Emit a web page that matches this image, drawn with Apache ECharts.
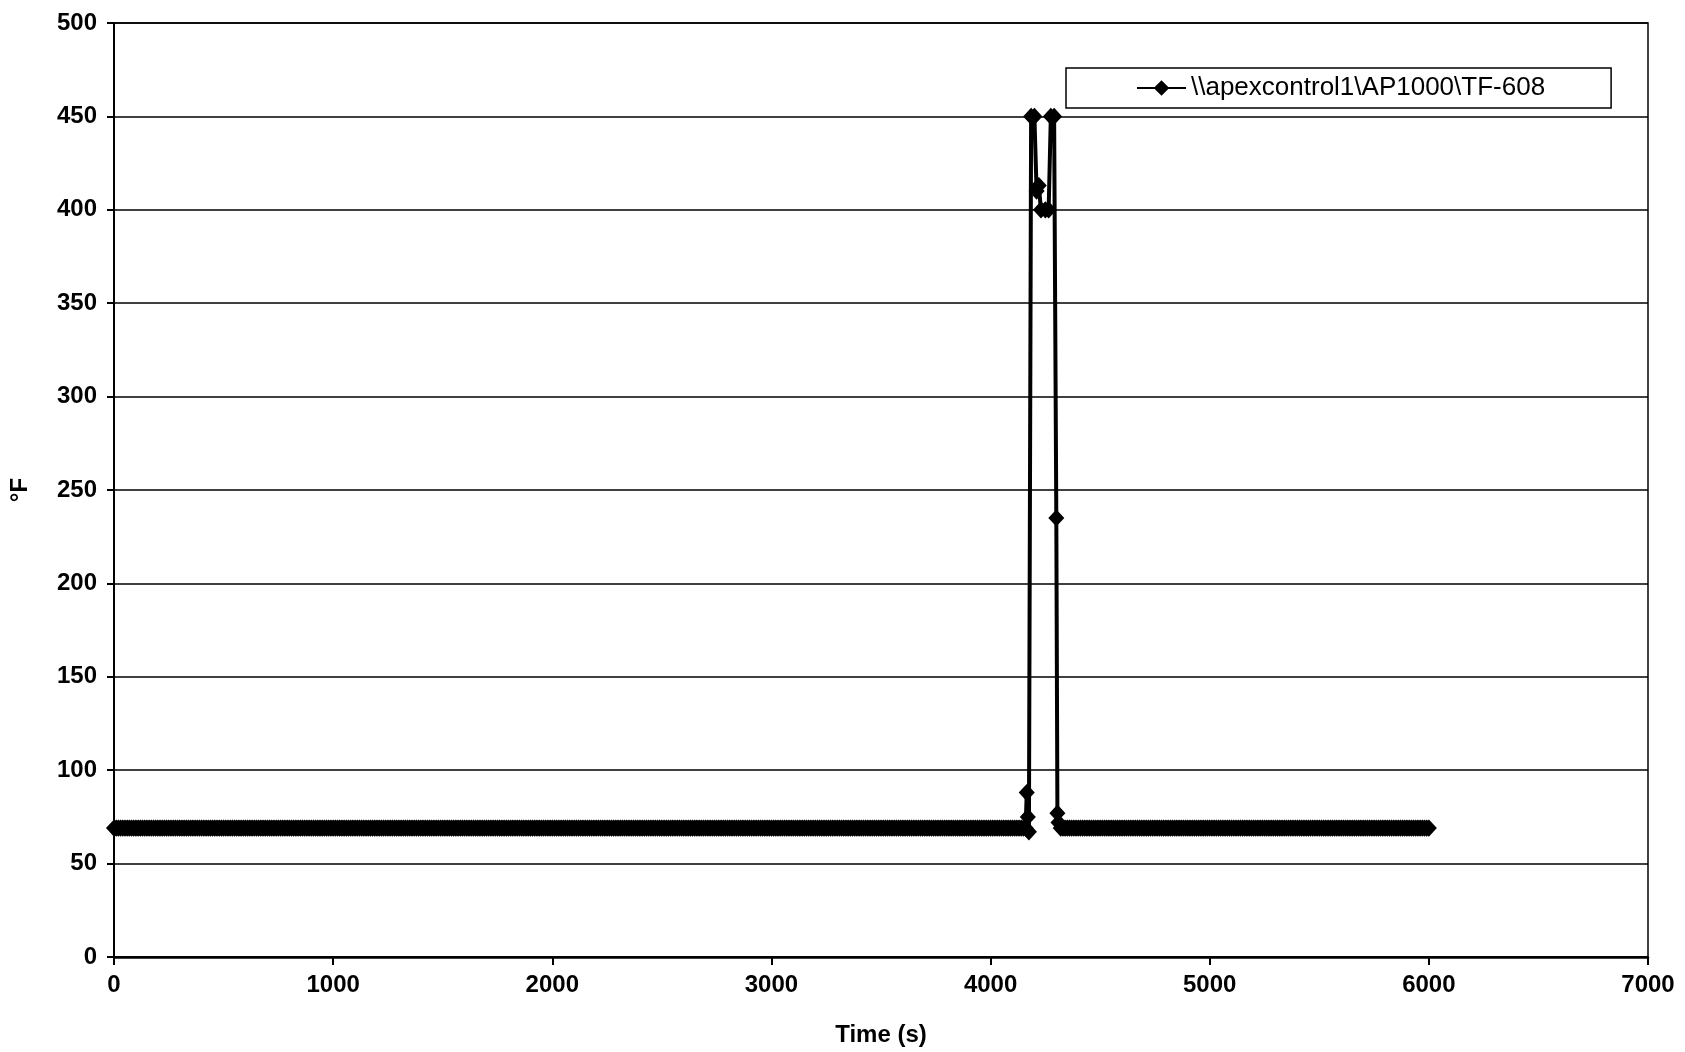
<!DOCTYPE html>
<html>
<head>
<meta charset="utf-8">
<script src="https://cdn.jsdelivr.net/npm/echarts@6/dist/echarts.min.js"></script>
<style>
html,body{margin:0;padding:0;background:#fff;}
#chart{width:1685px;height:1052px;}
</style>
</head>
<body>
<div id="chart"></div>
<script>
// ---- data ----
const seriesName = '\\\\apexcontrol1\\AP1000\\TF-608';
const xTicks = [0, 1000, 2000, 3000, 4000, 5000, 6000, 7000];
const yTicks = [0, 50, 100, 150, 200, 250, 300, 350, 400, 450, 500];

// steady segment before the excursion (samples every 10 s from 0 s to 4160 s)
const sampleStep = 10;
const firstStart = 0;
const firstValues = [
69,69,69,69,69,69,69,69,69,69,69,69,69,69,69,69,69,69,69,69,69,69,69,69,69,69,69,69,69,69,
69,69,69,69,69,69,69,69,69,69,69,69,69,69,69,69,69,69,69,69,69,69,69,69,69,69,69,69,69,69,
69,69,69,69,69,69,69,69,69,69,69,69,69,69,69,69,69,69,69,69,69,69,69,69,69,69,69,69,69,69,
69,69,69,69,69,69,69,69,69,69,69,69,69,69,69,69,69,69,69,69,69,69,69,69,69,69,69,69,69,69,
69,69,69,69,69,69,69,69,69,69,69,69,69,69,69,69,69,69,69,69,69,69,69,69,69,69,69,69,69,69,
69,69,69,69,69,69,69,69,69,69,69,69,69,69,69,69,69,69,69,69,69,69,69,69,69,69,69,69,69,69,
69,69,69,69,69,69,69,69,69,69,69,69,69,69,69,69,69,69,69,69,69,69,69,69,69,69,69,69,69,69,
69,69,69,69,69,69,69,69,69,69,69,69,69,69,69,69,69,69,69,69,69,69,69,69,69,69,69,69,69,69,
69,69,69,69,69,69,69,69,69,69,69,69,69,69,69,69,69,69,69,69,69,69,69,69,69,69,69,69,69,69,
69,69,69,69,69,69,69,69,69,69,69,69,69,69,69,69,69,69,69,69,69,69,69,69,69,69,69,69,69,69,
69,69,69,69,69,69,69,69,69,69,69,69,69,69,69,69,69,69,69,69,69,69,69,69,69,69,69,69,69,69,
69,69,69,69,69,69,69,69,69,69,69,69,69,69,69,69,69,69,69,69,69,69,69,69,69,69,69,69,69,69,
69,69,69,69,69,69,69,69,69,69,69,69,69,69,69,69,69,69,69,69,69,69,69,69,69,69,69,69,69,69,
69,69,69,69,69,69,69,69,69,69,69,69,69,69,69,69,69,69,69,69,69,69,69,69,69,69,69
];

// excursion
const spikeTimes  = [4165, 4170, 4175, 4185, 4200, 4210, 4220, 4230, 4250, 4265, 4275, 4290, 4300, 4305, 4310];
const spikeValues = [88,   75,   67,   450,  450,  410,  413,  400,  400,  400,  450,  450,  235,  77,   72];

// steady segment after the excursion (samples every 10 s from 4320 s to 6000 s)
const secondStart = 4320;
const secondValues = [
69,69,69,69,69,69,69,69,69,69,69,69,69,69,69,69,69,69,69,69,69,69,69,69,69,69,69,69,69,69,
69,69,69,69,69,69,69,69,69,69,69,69,69,69,69,69,69,69,69,69,69,69,69,69,69,69,69,69,69,69,
69,69,69,69,69,69,69,69,69,69,69,69,69,69,69,69,69,69,69,69,69,69,69,69,69,69,69,69,69,69,
69,69,69,69,69,69,69,69,69,69,69,69,69,69,69,69,69,69,69,69,69,69,69,69,69,69,69,69,69,69,
69,69,69,69,69,69,69,69,69,69,69,69,69,69,69,69,69,69,69,69,69,69,69,69,69,69,69,69,69,69,
69,69,69,69,69,69,69,69,69,69,69,69,69,69,69,69,69,69,69
];

// ---- assemble ----
const data = [];
firstValues.forEach((v, i) => data.push([firstStart + i * sampleStep, v]));
spikeTimes.forEach((t, i) => data.push([t, spikeValues[i]]));
secondValues.forEach((v, i) => data.push([secondStart + i * sampleStep, v]));

const font = "'Liberation Sans', Arial, sans-serif";
const chart = echarts.init(document.getElementById('chart'), null, {renderer: 'canvas'});
chart.setOption({
  animation: false,
  backgroundColor: '#ffffff',
  grid: {
    left: 114, right: 37, top: 23, bottom: 95,
    show: true, borderColor: '#000', borderWidth: 1.5, backgroundColor: 'transparent'
  },
  legend: {
    data: [seriesName],
    left: 1066, top: 68,
    orient: 'horizontal',
    backgroundColor: '#fff',
    borderColor: '#000', borderWidth: 1.5, borderRadius: 0,
    padding: [7, 66, 7, 70],
    itemWidth: 49, itemHeight: 16, itemGap: 8,
    textStyle: {fontFamily: font, fontSize: 26, color: '#000'},
    itemStyle: {color: '#000'}
  },
  xAxis: {
    type: 'value',
    min: xTicks[0], max: xTicks[xTicks.length - 1], interval: 1000,
    name: 'Time (s)', nameLocation: 'middle', nameGap: 66,
    nameTextStyle: {fontFamily: font, fontSize: 24, fontWeight: 'bold', color: '#000'},
    axisLine: {show: true, onZero: false, lineStyle: {color: '#000', width: 2.5}},
    axisTick: {show: true, length: 8, lineStyle: {color: '#000', width: 2}},
    axisLabel: {fontFamily: font, fontSize: 24, fontWeight: 'bold', color: '#000', margin: 16,
      formatter: v => String(v)},
    splitLine: {show: false}
  },
  yAxis: {
    type: 'value',
    min: yTicks[0], max: yTicks[yTicks.length - 1], interval: 50,
    name: '°F', nameLocation: 'middle', nameGap: 82, nameRotate: 90,
    nameTextStyle: {fontFamily: font, fontSize: 24, fontWeight: 'bold', color: '#000'},
    axisLine: {show: true, lineStyle: {color: '#000', width: 2}},
    axisTick: {show: true, length: 7, lineStyle: {color: '#000', width: 2}},
    axisLabel: {fontFamily: font, fontSize: 24, fontWeight: 'bold', color: '#000', margin: 17,
      formatter: v => String(v)},
    splitLine: {show: true, lineStyle: {color: '#000', width: 1.5}}
  },
  series: [{
    name: seriesName,
    type: 'line',
    data: data,
    showSymbol: true,
    showAllSymbol: true,
    symbol: 'diamond',
    symbolSize: [14, 15],
    itemStyle: {color: '#000', borderColor: '#000', borderWidth: 1.5},
    lineStyle: {color: '#000', width: 4},
    emphasis: {disabled: true}
  }]
});
</script>
</body>
</html>
